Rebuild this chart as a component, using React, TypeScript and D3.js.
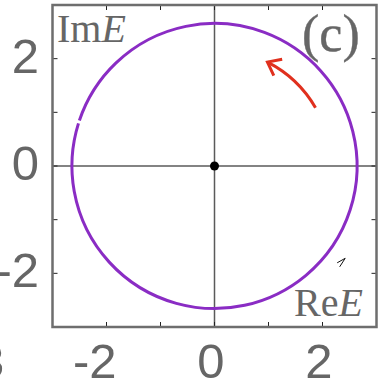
import React from "react";
import * as d3 from "d3";

// Complex-plane trajectory of E: a circle of constant modulus, traversed counter-clockwise
const circleRadius = 2.64;
const circleGapDeg = [161.4, 162.6]; // where the traced loop starts and ends
const origin = [0, 0];

// Red direction arrow (arc around the origin)
const dirArrowRadius = 2.16;
const dirArrowDeg = [30, 63];

// Small marker near the lower right of the loop
const markerTip = [2.42, -1.72];

const xTicks = [-2, -1, 0, 1, 2];
const yTicks = [-2, -1, 0, 1, 2];
const xTickLabels = [-2, 0, 2];
const yTickLabels = [-2, 0, 2];

const W = 385;
const H = 390;
const box = { left: 52.5, right: 376.5, top: 5, bottom: 327 };

export default function App() {
  const x = d3.scaleLinear().domain([-3, 3]).range([box.left, box.right]);
  const y = d3.scaleLinear().domain([-3, 3]).range([box.bottom, box.top]);
  const rad = (d: number) => (d * Math.PI) / 180;
  const pxPerUnit = x(1) - x(0);

  // main loop: screen angles are negated since the y axis points down
  const loop = d3.path();
  {
    const r = circleRadius * pxPerUnit;
    const a0 = -rad(circleGapDeg[1]);
    const a1 = -rad(circleGapDeg[0] + 360);
    loop.moveTo(x(0) + r * Math.cos(a0), y(0) + r * Math.sin(a0));
    loop.arc(x(0), y(0), r, a0, a1, true);
  }

  // direction arrow shaft + head
  const shaft = d3.path();
  const head = d3.path();
  {
    const r = dirArrowRadius * pxPerUnit;
    const a0 = -rad(dirArrowDeg[0]);
    const a1 = -rad(dirArrowDeg[1]);
    shaft.moveTo(x(0) + r * Math.cos(a0), y(0) + r * Math.sin(a0));
    shaft.arc(x(0), y(0), r, a0, a1, true);
    const tx = x(0) + r * Math.cos(a1);
    const ty = y(0) + r * Math.sin(a1);
    // tangent direction of travel at the tip
    const dx = Math.sin(a1);
    const dy = -Math.cos(a1);
    const len = 15;
    const spread = rad(38);
    const back = Math.atan2(-dy, -dx);
    head.moveTo(tx + len * Math.cos(back + spread), ty + len * Math.sin(back + spread));
    head.lineTo(tx, ty);
    head.lineTo(tx + len * Math.cos(back - spread), ty + len * Math.sin(back - spread));
  }

  const mx = x(markerTip[0]);
  const my = y(markerTip[1]);

  const grey = "#666666";
  const sans = "'Liberation Sans', Arial, sans-serif";
  const serif = "'Liberation Serif', 'Times New Roman', serif";

  return (
    <svg width={W} height={H} style={{ position: "absolute", left: 0, top: 0 }}>
      <rect width={W} height={H} fill="#ffffff" />

      {/* zero lines */}
      <line x1={x(0)} x2={x(0)} y1={box.top} y2={box.bottom} stroke="#5a5a5a" strokeWidth={1.5} />
      <line x1={box.left} x2={box.right} y1={y(0)} y2={y(0)} stroke="#5a5a5a" strokeWidth={1.5} />

      {/* inward ticks on all four sides */}
      {xTicks.map((t) => (
        <g key={"xt" + t}>
          <line x1={x(t)} x2={x(t)} y1={box.bottom} y2={box.bottom - 5} stroke="#222" strokeWidth={1} />
          <line x1={x(t)} x2={x(t)} y1={box.top} y2={box.top + 5} stroke="#222" strokeWidth={1} />
        </g>
      ))}
      {yTicks.map((t) => (
        <g key={"yt" + t}>
          <line x1={box.left} x2={box.left + 5} y1={y(t)} y2={y(t)} stroke="#222" strokeWidth={1} />
          <line x1={box.right} x2={box.right - 5} y1={y(t)} y2={y(t)} stroke="#222" strokeWidth={1} />
        </g>
      ))}

      {/* trajectory */}
      <path d={loop.toString()} fill="none" stroke="#8a2cc4" strokeWidth={3} />

      {/* direction of motion */}
      <path d={shaft.toString()} fill="none" stroke="#e0301e" strokeWidth={3} />
      <path d={head.toString()} fill="none" stroke="#e0301e" strokeWidth={3} strokeLinejoin="miter" />

      {/* small marker */}
      <path
        d={`M${mx - 8},${my + 4.5} L${mx},${my} L${mx - 5.5},${my + 8.5}`}
        fill="none"
        stroke="#111"
        strokeWidth={1}
      />

      {/* origin */}
      <circle cx={x(origin[0])} cy={y(origin[1])} r={4.5} fill="#000" />

      {/* axes box */}
      <rect
        x={box.left}
        y={box.top}
        width={box.right - box.left}
        height={box.bottom - box.top}
        fill="none"
        stroke="#6e6e6e"
        strokeWidth={2.5}
      />

      {/* tick labels */}
      {xTickLabels.map((t) => (
        <text key={"xl" + t} x={x(t) + 10} y={378} textAnchor="end" fontFamily={sans} fontSize={49} fill={grey}>
          {t}
        </text>
      ))}
      {yTickLabels.map((t) => (
        <text key={"yl" + t} x={39} y={y(t) + 14} textAnchor="end" fontFamily={sans} fontSize={49} fill={grey}>
          {t}
        </text>
      ))}
      <text x={-23} y={378} fontFamily={sans} fontSize={49} fill={grey}>
        3
      </text>

      {/* axis names and panel label */}
      <text x={57} y={42} fontFamily={serif} fontSize={40} fill={grey}>
        Im<tspan fontStyle="italic">E</tspan>
      </text>
      <text x={294} y={316} fontFamily={serif} fontSize={40} fill={grey}>
        Re<tspan fontStyle="italic">E</tspan>
      </text>
      <text x={302} y={51} fontFamily={serif} fontSize={52} fill={grey} stroke={grey} strokeWidth={0.4}>
        (c)
      </text>
    </svg>
  );
}
